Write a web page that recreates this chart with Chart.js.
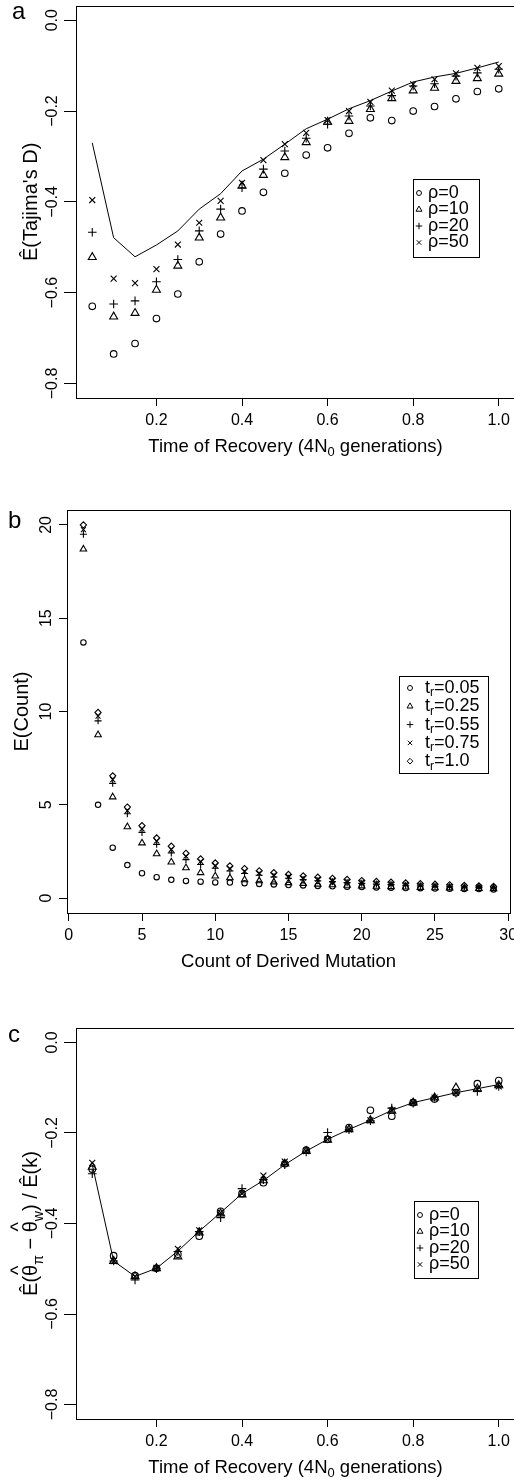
<!DOCTYPE html>
<html>
<head>
<meta charset="utf-8">
<script src="https://cdn.jsdelivr.net/npm/chart.js@4.4.1/dist/chart.umd.min.js"></script>
<style>
  html, body { margin: 0; padding: 0; background: #fff; }
  #page { position: relative; width: 514px; height: 1481px; overflow: hidden; }
  canvas { position: absolute; left: 0; }
</style>
</head>
<body>
<div id="page">
  <canvas id="chartA" width="540" height="470" style="top:0px"></canvas>
  <canvas id="chartB" width="540" height="510" style="top:470px"></canvas>
  <canvas id="chartC" width="540" height="491" style="top:990px"></canvas>
</div>
<script>
const FONT = '"Liberation Sans", Arial, sans-serif';

// ---- panel a : Tajima's D vs time of recovery
const recoveryTimes = [0.05, 0.10, 0.15, 0.20, 0.25, 0.30, 0.35, 0.40, 0.45, 0.50,
                       0.55, 0.60, 0.65, 0.70, 0.75, 0.80, 0.85, 0.90, 0.95, 1.00];
const tajimaExpected = [-0.270, -0.479, -0.521, -0.495, -0.464, -0.416, -0.382, -0.332, -0.306, -0.273,
                        -0.239, -0.218, -0.195, -0.177, -0.156, -0.136, -0.125, -0.117, -0.105, -0.092];
const tajimaRho0  = [-0.630, -0.735, -0.712, -0.657, -0.603, -0.532, -0.471, -0.420, -0.379, -0.337,
                     -0.297, -0.281, -0.249, -0.215, -0.221, -0.200, -0.190, -0.173, -0.157, -0.151];
const tajimaRho10 = [-0.522, -0.653, -0.645, -0.594, -0.541, -0.479, -0.435, -0.365, -0.341, -0.302,
                     -0.269, -0.224, -0.222, -0.196, -0.172, -0.155, -0.149, -0.134, -0.128, -0.118];
const tajimaRho20 = [-0.467, -0.625, -0.618, -0.576, -0.527, -0.464, -0.416, -0.369, -0.328, -0.288,
                     -0.260, -0.229, -0.211, -0.189, -0.166, -0.145, -0.140, -0.123, -0.116, -0.108];
const tajimaRho50 = [-0.396, -0.569, -0.579, -0.548, -0.494, -0.446, -0.398, -0.358, -0.308, -0.273,
                     -0.248, -0.220, -0.200, -0.180, -0.155, -0.141, -0.130, -0.117, -0.105, -0.101];

// ---- panel b : expected count vs derived mutation count
const derivedCounts = [1, 2, 3, 4, 5, 6, 7, 8, 9, 10, 11, 12, 13, 14, 15,
                       16, 17, 18, 19, 20, 21, 22, 23, 24, 25, 26, 27, 28, 29];
const countTr005 = [13.7, 5.0, 2.7, 1.77, 1.33, 1.12, 0.98, 0.92, 0.88, 0.84, 0.83, 0.80, 0.76, 0.73, 0.70,
                    0.68, 0.65, 0.63, 0.61, 0.59, 0.57, 0.56, 0.54, 0.53, 0.51, 0.50, 0.49, 0.48, 0.46];
const countTr025 = [18.7, 8.75, 5.42, 3.82, 2.95, 2.37, 1.93, 1.62, 1.36, 1.18, 1.08, 0.98, 0.92, 0.86, 0.82,
                    0.78, 0.74, 0.71, 0.68, 0.65, 0.63, 0.61, 0.59, 0.57, 0.55, 0.54, 0.52, 0.51, 0.50];
const countTr055 = [19.5, 9.5, 6.15, 4.52, 3.52, 2.88, 2.42, 2.06, 1.80, 1.60, 1.45, 1.32, 1.22, 1.13, 1.06,
                    0.99, 0.93, 0.88, 0.83, 0.79, 0.75, 0.72, 0.69, 0.66, 0.63, 0.61, 0.59, 0.57, 0.55];
const countTr075 = [19.75, 9.75, 6.35, 4.68, 3.70, 3.06, 2.60, 2.24, 1.96, 1.74, 1.58, 1.44, 1.33, 1.23, 1.15,
                    1.07, 1.01, 0.95, 0.89, 0.84, 0.80, 0.76, 0.73, 0.70, 0.67, 0.64, 0.62, 0.60, 0.58];
const countTr100 = [20.0, 9.95, 6.55, 4.88, 3.88, 3.22, 2.78, 2.40, 2.10, 1.88, 1.72, 1.58, 1.46, 1.36, 1.27,
                    1.19, 1.12, 1.06, 1.00, 0.94, 0.89, 0.85, 0.81, 0.77, 0.74, 0.71, 0.68, 0.65, 0.62];

// ---- panel c : normalised (theta_pi - theta_w) vs time of recovery
const thetaExpected = [-0.270, -0.483, -0.517, -0.499, -0.461, -0.417, -0.376, -0.334, -0.305, -0.270,
                       -0.240, -0.214, -0.192, -0.172, -0.150, -0.133, -0.122, -0.111, -0.102, -0.093];
const thetaRho0  = [-0.280, -0.471, -0.515, -0.499, -0.468, -0.428, -0.373, -0.334, -0.310, -0.268,
                    -0.238, -0.214, -0.188, -0.150, -0.163, -0.133, -0.125, -0.111, -0.091, -0.084];
const thetaRho10 = [-0.275, -0.483, -0.517, -0.499, -0.473, -0.420, -0.378, -0.336, -0.305, -0.268,
                    -0.240, -0.215, -0.192, -0.172, -0.151, -0.133, -0.122, -0.100, -0.102, -0.095];
const thetaRho20 = [-0.290, -0.483, -0.525, -0.500, -0.462, -0.418, -0.387, -0.323, -0.303, -0.270,
                    -0.242, -0.199, -0.193, -0.173, -0.145, -0.134, -0.121, -0.112, -0.108, -0.097];
const thetaRho50 = [-0.266, -0.483, -0.517, -0.498, -0.456, -0.415, -0.376, -0.334, -0.294, -0.263,
                    -0.240, -0.214, -0.192, -0.172, -0.150, -0.133, -0.122, -0.111, -0.103, -0.097];

// ---- ticks and labels
const timeTicks = [0.2, 0.4, 0.6, 0.8, 1.0];
const timeTickLabels = ['0.2', '0.4', '0.6', '0.8', '1.0'];
const statTicks = [0, -0.2, -0.4, -0.6, -0.8];
const statTickLabels = ['0.0', '\u22120.2', '\u22120.4', '\u22120.6', '\u22120.8'];
const countXTicks = [0, 5, 10, 15, 20, 25, 30];
const countXTickLabels = ['0', '5', '10', '15', '20', '25', '30'];
const countYTicks = [0, 5, 10, 15, 20];
const countYTickLabels = ['0', '5', '10', '15', '20'];
const rhoLabels = ['\u03C1=0', '\u03C1=10', '\u03C1=20', '\u03C1=50'];
const trLabels = ['=0.05', '=0.25', '=0.55', '=0.75', '=1.0'];

const symbols = ['circle', 'triangle', 'cross', 'crossRot', 'rectRot'];
const symbolSize = { circle: 3.3, triangle: 4.6, cross: 4.3, crossRot: 4.2, rectRot: 3.8 };

function pts(xs, ys) {
  return xs.map((x, i) => ({ x: x, y: ys[i] }));
}

function markers(xs, ys, sym, scale) {
  return {
    data: pts(xs, ys),
    showLine: false,
    pointStyle: sym,
    pointRadius: symbolSize[sym] * scale,
    pointBorderColor: '#000',
    pointBackgroundColor: 'rgba(0,0,0,0)',
    pointBorderWidth: 1.1
  };
}

function curve(xs, ys) {
  return {
    data: pts(xs, ys),
    showLine: true,
    pointRadius: 0,
    borderColor: '#000',
    borderWidth: 1,
    tension: 0
  };
}

// draws a run of text pieces centred on x; pieces may be subscripts or carry a hat
function drawRich(ctx, parts, x, y, size) {
  const widths = parts.map(p => {
    ctx.font = (p.sub ? size * 0.7 : size) + 'px ' + FONT;
    return ctx.measureText(p.t).width;
  });
  let cx = x - widths.reduce((s, w) => s + w, 0) / 2;
  ctx.textAlign = 'left';
  parts.forEach((p, i) => {
    ctx.font = (p.sub ? size * 0.7 : size) + 'px ' + FONT;
    ctx.fillText(p.t, cx, y + (p.sub ? size * 0.3 : 0));
    if (p.hat) {
      ctx.textAlign = 'center';
      ctx.fillText('^', cx + widths[i] / 2, y - size * 0.62);
      ctx.textAlign = 'left';
    }
    cx += widths[i];
  });
}

// R-like decoration: box, rotated y labels, titles, panel letter, legend
const rDeco = {
  id: 'rdeco',
  afterDraw(chart, args, o) {
    const ctx = chart.ctx, a = chart.chartArea;
    ctx.save();
    ctx.strokeStyle = '#000';
    ctx.fillStyle = '#000';
    ctx.lineWidth = 1;
    ctx.strokeRect(Math.round(a.left) + 0.5, Math.round(a.top) + 0.5,
                   Math.round(a.right - a.left), Math.round(a.bottom - a.top));

    const ys = chart.scales.y;
    ctx.font = '16px ' + FONT;
    ctx.textAlign = 'center';
    ctx.textBaseline = 'middle';
    o.yTicks.forEach((v, i) => {
      ctx.save();
      ctx.translate(a.left - o.yLabelGap, ys.getPixelForValue(v));
      ctx.rotate(-Math.PI / 2);
      ctx.fillText(o.yTickLabels[i], 0, 0);
      ctx.restore();
    });

    ctx.textBaseline = 'middle';
    drawRich(ctx, o.xTitle, (a.left + a.right) / 2, a.bottom + 49, 18.5);

    ctx.save();
    ctx.translate(a.left - o.yTitleGap, (a.top + a.bottom) / 2);
    ctx.rotate(-Math.PI / 2);
    ctx.textBaseline = 'alphabetic';
    drawRich(ctx, o.yTitle, 0, 0, 20);
    ctx.restore();

    ctx.font = '24px ' + FONT;
    ctx.textAlign = 'left';
    ctx.textBaseline = 'alphabetic';
    ctx.fillText(o.letter, o.letterX, o.letterY);

    const lg = o.legend;
    ctx.strokeRect(lg.x + 0.5, lg.y + 0.5, lg.w, lg.h);
    lg.items.forEach((it, i) => {
      const ry = lg.y + lg.first + i * lg.step;
      ctx.fillStyle = 'rgba(0,0,0,0)';
      Chart.helpers.drawPoint(ctx, {
        pointStyle: it.sym, rotation: 0, radius: symbolSize[it.sym] * lg.scale, borderWidth: 1
      }, lg.x + lg.symX, ry);
      ctx.fillStyle = '#000';
      ctx.textBaseline = 'middle';
      let tx = lg.x + lg.textX;
      it.parts.forEach(p => {
        const sz = p.sub ? 12 : 18;
        ctx.font = sz + 'px ' + FONT;
        ctx.fillText(p.t, tx, ry + (p.sub ? 5 : 0));
        tx += ctx.measureText(p.t).width;
      });
    });
    ctx.restore();
  }
};

function makeChart(id, area, xr, yr, xTicks, xLabels, yTicks, yTickLen, datasets, deco) {
  const cv = document.getElementById(id);
  const W = cv.width, H = cv.height;
  return new Chart(cv, {
    type: 'scatter',
    data: { datasets: datasets },
    plugins: [rDeco],
    options: {
      responsive: false,
      animation: false,
      devicePixelRatio: 1,
      events: [],
      layout: { padding: { left: 0, top: area.top, right: W - area.right, bottom: 0 } },
      plugins: { legend: { display: false }, tooltip: { enabled: false }, rdeco: deco },
      scales: {
        x: {
          type: 'linear', min: xr[0], max: xr[1],
          afterBuildTicks: s => { s.ticks = xTicks.map(v => ({ value: v })); },
          afterFit: s => { s.height = H - area.bottom; },
          border: { display: false },
          grid: { drawOnChartArea: false, drawTicks: true, tickLength: 8, color: '#000', lineWidth: 1 },
          ticks: {
            autoSkip: false, maxRotation: 0, minRotation: 0, padding: 5, color: '#000',
            font: { family: FONT, size: 16 },
            callback: (v, i) => xLabels[i]
          }
        },
        y: {
          type: 'linear', min: yr[0], max: yr[1],
          afterBuildTicks: s => { s.ticks = yTicks.map(v => ({ value: v })); },
          afterFit: s => { s.width = area.left; },
          border: { display: false },
          grid: { drawOnChartArea: false, drawTicks: true, tickLength: yTickLen, color: '#000', lineWidth: 1 },
          ticks: { display: false }
        }
      }
    }
  });
}

const rhoItems = rhoLabels.map((t, i) => ({ sym: symbols[i], parts: [{ t: t }] }));
const trItems = trLabels.map((t, i) => ({ sym: symbols[i], parts: [{ t: 't' }, { t: 'r', sub: true }, { t: t }] }));

makeChart('chartA', { left: 76, top: 4, right: 515, bottom: 398 }, [0.012, 1.038], [-0.832, 0.032],
  timeTicks, timeTickLabels, statTicks, 12, [
    curve(recoveryTimes, tajimaExpected),
    markers(recoveryTimes, tajimaRho0, 'circle', 1),
    markers(recoveryTimes, tajimaRho10, 'triangle', 1),
    markers(recoveryTimes, tajimaRho20, 'cross', 1),
    markers(recoveryTimes, tajimaRho50, 'crossRot', 1)
  ], {
    letter: 'a', letterX: 12, letterY: 19,
    yTicks: statTicks, yTickLabels: statTickLabels, yLabelGap: 23, yTitleGap: 39,
    xTitle: [{ t: 'Time of Recovery (4N' }, { t: '0', sub: true }, { t: ' generations)' }],
    yTitle: [{ t: '\u00CA(Tajima\'s D)' }],
    legend: { x: 413, y: 179, w: 66, h: 78, first: 14, step: 16.5, symX: 6, textX: 15, scale: 0.75, items: rhoItems }
  });

makeChart('chartB', { left: 67, top: 40, right: 510, bottom: 443 }, [-0.12, 30.12], [-0.8, 20.8],
  countXTicks, countXTickLabels, countYTicks, 8, [
    markers(derivedCounts, countTr005, 'circle', 0.82),
    markers(derivedCounts, countTr025, 'triangle', 0.82),
    markers(derivedCounts, countTr055, 'cross', 0.82),
    markers(derivedCounts, countTr075, 'crossRot', 0.82),
    markers(derivedCounts, countTr100, 'rectRot', 0.82)
  ], {
    letter: 'b', letterX: 8, letterY: 58,
    yTicks: countYTicks, yTickLabels: countYTickLabels, yLabelGap: 20, yTitleGap: 39,
    xTitle: [{ t: 'Count of Derived Mutation' }],
    yTitle: [{ t: 'E(Count)' }],
    legend: { x: 399, y: 206, w: 89, h: 97, first: 12, step: 18.3, symX: 11, textX: 26, scale: 0.75, items: trItems }
  });

makeChart('chartC', { left: 76, top: 38, right: 515, bottom: 429 }, [0.012, 1.038], [-0.832, 0.032],
  timeTicks, timeTickLabels, statTicks, 12, [
    curve(recoveryTimes, thetaExpected),
    markers(recoveryTimes, thetaRho0, 'circle', 1),
    markers(recoveryTimes, thetaRho10, 'triangle', 1),
    markers(recoveryTimes, thetaRho20, 'cross', 1),
    markers(recoveryTimes, thetaRho50, 'crossRot', 1)
  ], {
    letter: 'c', letterX: 8, letterY: 52,
    yTicks: statTicks, yTickLabels: statTickLabels, yLabelGap: 23, yTitleGap: 39,
    xTitle: [{ t: 'Time of Recovery (4N' }, { t: '0', sub: true }, { t: ' generations)' }],
    yTitle: [{ t: '\u00CA(' }, { t: '\u03B8', hat: true }, { t: '\u03C0', sub: true }, { t: ' \u2212 ' },
             { t: '\u03B8', hat: true }, { t: 'w', sub: true }, { t: ') / \u00CA(k)' }],
    legend: { x: 414, y: 211, w: 64, h: 77, first: 14, step: 16.5, symX: 6, textX: 15, scale: 0.75, items: rhoItems }
  });
</script>
</body>
</html>
